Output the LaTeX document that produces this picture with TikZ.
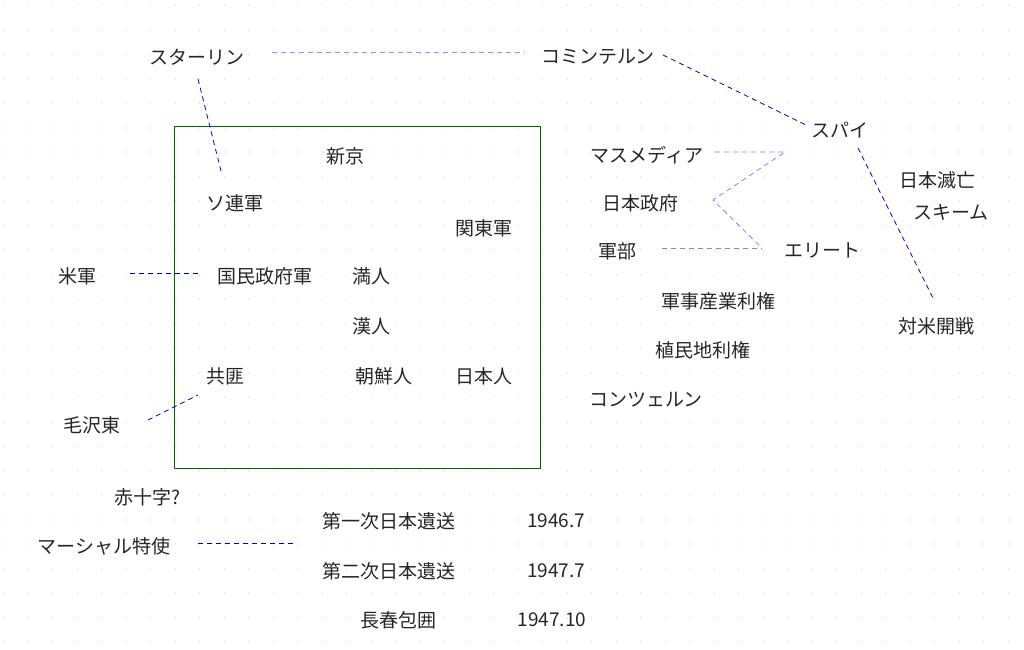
\documentclass[tikz,border=0pt]{standalone}
\usepackage{fontspec}
\setmainfont{Noto Sans CJK JP}
\begin{document}
\begin{tikzpicture}[x=1pt,y=-1pt,
 t/.style={font=\fontsize{19}{21}\selectfont, text=black!85, inner sep=1pt},
 lk/.style={draw=blue!75!black, dashed, dash pattern=on 5pt off 4pt, line width=0.8pt}]
\useasboundingbox (0,0) rectangle (1024,649);
\foreach \i in {0,...,41}{\foreach \j in {0,...,26}{
 \fill[red!15] (3+24.5*\i,4+24.5*\j) rectangle ++(0.7,2.2);}}
\draw[green!40!black, line width=0.9pt] (174,126) rectangle (540,468);
\node[t] (stalin) at (197,57) {スターリン};
\node[t] (comintern) at (598,57) {コミンテルン};
\node[t] (spy) at (840,130) {スパイ};
\node[t] (media) at (647,155) {マスメディア};
\node[t] (gov) at (640,203) {日本政府};
\node[t] (army) at (617,251) {軍部};
\node[t] (elite) at (822,251) {エリート};
\node[t] (mil) at (718,301) {軍事産業利権};
\node[t] (col) at (703,350) {植民地利権};
\node[t] (konz) at (646,400) {コンツェルン};
\node[t] (metsu) at (937,180) {日本滅亡};
\node[t] (scheme) at (951,212) {スキーム};
\node[t] (war) at (936,326) {対米開戦};
\node[t] (shinkyo) at (345,156) {新京};
\node[t] (soviet) at (235,203) {ソ連軍};
\node[t] (kanto) at (484,228) {関東軍};
\node[t] (kmt) at (265,276) {国民政府軍};
\node[t] (man) at (371,276) {満人};
\node[t] (han) at (371,326) {漢人};
\node[t] (kyohi) at (225,376) {共匪};
\node[t] (korean) at (384,376) {朝鮮人};
\node[t] (jp) at (484,376) {日本人};
\node[t] (us) at (77,276) {米軍};
\node[t] (mao) at (92,425) {毛沢東};
\node[t] (rc) at (148,497) {赤十字?};
\node[t] (marshall) at (104,546) {マーシャル特使};
\node[t] (r1) at (389,521) {第一次日本遺送};
\node[t] (d1) at (556,521) {1946.7};
\node[t] (r2) at (389,571) {第二次日本遺送};
\node[t] (d2) at (556,571) {1947.7};
\node[t] (siege) at (398,620) {長春包囲};
\node[t] (d3) at (552,620) {1947.10};
\coordinate (c1) at (272,52); \coordinate (c2) at (525,52);
\coordinate (s1) at (198,79); \coordinate (s2) at (222,175);
\coordinate (k1) at (663,55); \coordinate (k2) at (806,125);
\coordinate (p1) at (858,148); \coordinate (p2) at (933,298);
\coordinate (m1) at (715,152); \coordinate (g1) at (785,152);
\coordinate (g2) at (713,200); \coordinate (g3) at (762,248);
\coordinate (a1) at (662,248);
\coordinate (u1) at (130,273); \coordinate (u2) at (200,273);
\coordinate (z1) at (148,420); \coordinate (z2) at (198,395);
\coordinate (h1) at (198,543); \coordinate (h2) at (296,543);
\draw[lk, draw=blue!45] (c1) -- (c2);
\draw[lk] (s1) -- (s2);
\draw[lk] (k1) -- (k2);
\draw[lk] (p1) -- (p2);
\draw[lk, draw=blue!50] (m1) -- (g1) -- (g2) -- (g3);
\draw[lk, draw=blue!50] (a1) -- (g3);
\draw[lk] (u1) -- (u2);
\draw[lk] (z1) -- (z2);
\draw[lk] (h1) -- (h2);
\end{tikzpicture}
\end{document}
